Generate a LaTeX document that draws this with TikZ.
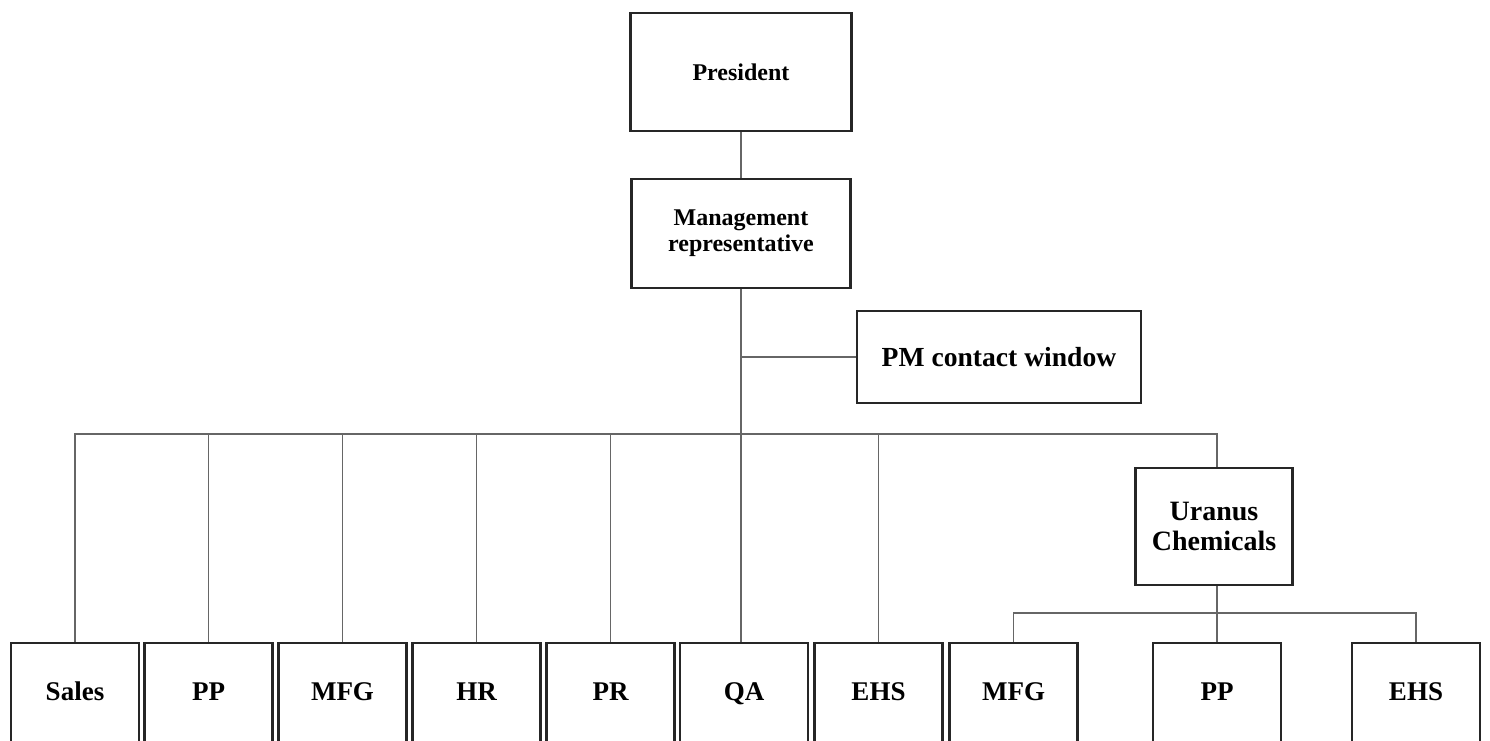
\documentclass[tikz,border=0pt]{standalone}
\usepackage{fontspec}
\setmainfont{Liberation Serif}
\usepackage{tikz}

\begin{document}
\begin{tikzpicture}
[x=0.5pt,y=-0.5pt
,ob/.style={draw=black!85,line width=1.1pt,align=center,inner sep=0pt,font=\bfseries\fontsize{12}{13}\selectfont}
,lb/.style={ob,minimum width=64pt,minimum height=51pt,text height=1.6ex,text depth=0.2ex,font=\bfseries\fontsize{13.5}{15}\selectfont}
,ln/.style={draw=black!60,line width=0.8pt}]
\useasboundingbox (0,0) rectangle (1490,740);
\clip (0,0) rectangle (1490,740);
\node[ob,minimum width=110.5pt,minimum height=59pt] (pres) at (741,72) {President};
\node[ob,minimum width=109.5pt,minimum height=54.5pt] (mr) at (741,233.5) {Management\\representative};
\node[ob,minimum width=142pt,minimum height=46pt,font=\bfseries\fontsize{13.8}{15}\selectfont] (pm) at (999,357) {PM contact window};
\node[ob,minimum width=78.5pt,minimum height=58.5pt,font=\bfseries\fontsize{14}{15}\selectfont] (uc) at (1214,526.5) {Uranus\\Chemicals};
\node[lb] (b1) at (75,694) {Sales};
\node[lb] (b2) at (208.5,694) {PP};
\node[lb] (b3) at (342.5,694) {MFG};
\node[lb] (b4) at (476.5,694) {HR};
\node[lb] (b5) at (610.5,694) {PR};
\node[lb] (b6) at (744,694) {QA};
\node[lb] (b7) at (878.5,694) {EHS};
\node[lb] (b8) at (1013.5,694) {MFG};
\node[lb] (b9) at (1217,694) {PP};
\node[lb] (b10) at (1416,694) {EHS};
\coordinate (bus) at (741,434);
\coordinate (sub) at (1217,613);
\draw[ln] (pres) -- (mr);
\draw[ln] (mr.south) -- (mr.south |- b6.north);
\draw[ln] (pm.west) -- (pm.west -| mr.south);
\draw[ln] (b1.north) |- (bus) -| (b9.north |- uc.north);
\foreach \b in {b2,b3,b4,b5,b7}
  \draw[ln] (\b.north) -- (\b.north |- bus);
\draw[ln] (b8.north) |- (sub) -| (b10.north);
\draw[ln] (b9.north |- uc.south) -- (b9.north);
\end{tikzpicture}
\end{document}
